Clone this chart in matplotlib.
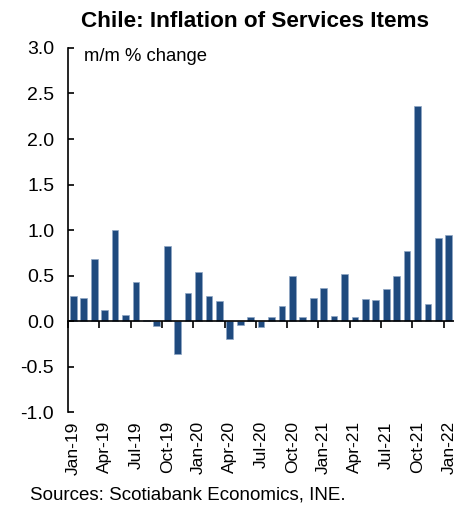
import matplotlib.pyplot as plt
from matplotlib.transforms import blended_transform_factory

plt.rcParams['font.family'] = ['Liberation Sans', 'DejaVu Sans']

months = ['Jan-19', 'Feb-19', 'Mar-19', 'Apr-19', 'May-19', 'Jun-19',
          'Jul-19', 'Aug-19', 'Sep-19', 'Oct-19', 'Nov-19', 'Dec-19',
          'Jan-20', 'Feb-20', 'Mar-20', 'Apr-20', 'May-20', 'Jun-20',
          'Jul-20', 'Aug-20', 'Sep-20', 'Oct-20', 'Nov-20', 'Dec-20',
          'Jan-21', 'Feb-21', 'Mar-21', 'Apr-21', 'May-21', 'Jun-21',
          'Jul-21', 'Aug-21', 'Sep-21', 'Oct-21', 'Nov-21', 'Dec-21',
          'Jan-22']
values = [0.28, 0.25, 0.68, 0.12, 1.00, 0.07,
          0.43, 0.01, -0.05, 0.82, -0.36, 0.31,
          0.54, 0.27, 0.22, -0.20, -0.04, 0.04,
          -0.07, 0.04, 0.16, 0.49, 0.05, 0.25,
          0.36, 0.06, 0.52, 0.04, 0.24, 0.23,
          0.35, 0.50, 0.77, 2.36, 0.19, 0.91,
          0.95]
yticks = [-1.0, -0.5, 0.0, 0.5, 1.0, 1.5, 2.0, 2.5, 3.0]

fig = plt.figure(figsize=(4.54, 5.05), dpi=100)
ax = fig.add_axes([0.15, 0.184, 0.85, 0.721])

x = list(range(len(values)))
ax.bar(x, values, width=0.64, color='#1f4a7e', edgecolor='#8fa6c4', linewidth=0.5)

ax.set_xlim(-0.5, len(values) - 0.5)
ax.set_ylim(-1.0, 3.0)
ax.set_yticks(yticks)
ax.set_yticklabels([f'{v:.1f}' for v in yticks], fontsize=14)
ax.tick_params(axis='y', direction='in', length=4, width=1.2, pad=10)

# x axis drawn at zero, ticks between categories every quarter
ax.spines['bottom'].set_position(('data', 0))
ax.spines['top'].set_visible(False)
ax.spines['right'].set_visible(False)
ax.spines['left'].set_linewidth(1.2)
ax.spines['bottom'].set_linewidth(1.2)
ax.set_xticks([i - 0.5 for i in range(0, len(values), 3)])
ax.set_xticklabels([])
ax.tick_params(axis='x', direction='out', length=5, width=1.2)

trans = blended_transform_factory(ax.transData, ax.transAxes)
for i in range(0, len(months), 3):
    ax.text(i, -0.025, months[i], rotation=90, ha='center', va='top',
            fontsize=12.5, transform=trans)

ax.text(0.04, 1.0, 'm/m % change', transform=ax.transAxes, fontsize=13.3,
        ha='left', va='top')

fig.text(0.562, 0.978, 'Chile: Inflation of Services Items', fontsize=16.2,
         fontweight='bold', ha='center', va='top')
fig.text(0.066, 0.003, 'Sources: Scotiabank Economics, INE.', fontsize=13.5,
         ha='left', va='bottom')

fig.savefig('out.png', dpi=100)
